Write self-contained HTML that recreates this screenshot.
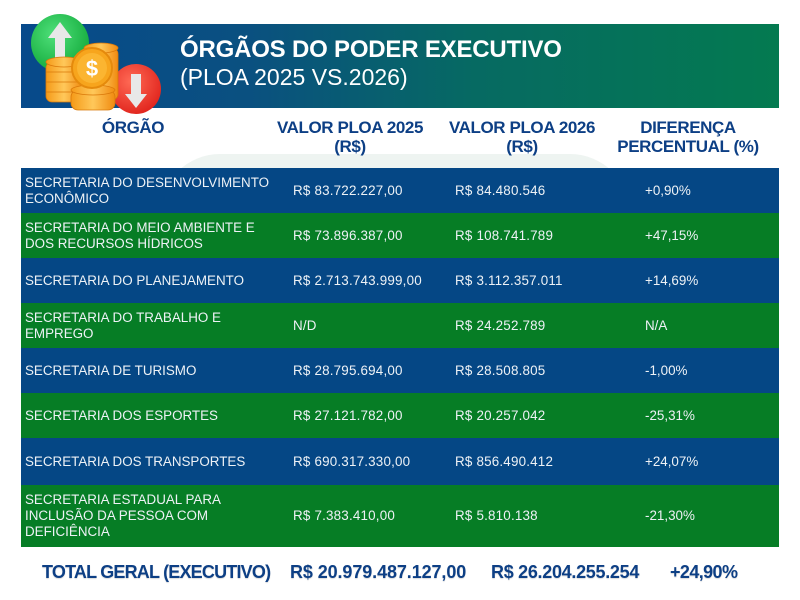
<!DOCTYPE html>
<html>
<head>
<meta charset="utf-8">
<style>
*{margin:0;padding:0;box-sizing:border-box;}
html,body{width:800px;height:600px;overflow:hidden;background:#ffffff;}
body{position:relative;font-family:"Liberation Sans",sans-serif;}
.banner{position:absolute;left:21px;top:24px;width:758px;height:84px;background:linear-gradient(90deg,#074a8b 0%,#0a5080 30%,#066a62 60%,#047a50 100%);}
.t1{position:absolute;left:180px;top:36px;color:#fff;font-weight:bold;font-size:24px;letter-spacing:-0.2px;white-space:nowrap;}
.t2{position:absolute;left:180px;top:64px;color:#fff;font-size:23px;white-space:nowrap;}
.bgshape{position:absolute;left:160px;top:154px;width:470px;height:80px;border-radius:60px 60px 0 0;background:#eef4f1;}
.hd{position:absolute;color:#0d3f85;font-weight:bold;font-size:17px;text-align:center;line-height:19px;white-space:nowrap;letter-spacing:-0.4px;}
.row{position:absolute;left:21px;width:758px;}
.blue{background:#054785;}
.green{background:#067d25;}
.c{position:absolute;color:#eef2f6;font-size:13.4px;line-height:16px;white-space:nowrap;top:50%;transform:translateY(-50%);}
.c1{left:4px;}
.c2{left:272px;letter-spacing:0.2px;}
.c3{left:434px;letter-spacing:0.2px;}
.c4{left:624px;}
.tot{position:absolute;top:562px;color:#0d3f85;font-weight:bold;font-size:18px;white-space:nowrap;letter-spacing:-0.6px;text-shadow:0 1px 1px rgba(0,0,0,0.15);}
</style>
</head>
<body>
<div class="banner"></div>
<svg style="position:absolute;left:0;top:0" width="180" height="125" viewBox="0 0 180 125">
  <defs>
    <radialGradient id="gg" cx="0.4" cy="0.35" r="0.7"><stop offset="0" stop-color="#4fe07a"/><stop offset="1" stop-color="#12a93a"/></radialGradient>
    <radialGradient id="rg" cx="0.4" cy="0.35" r="0.7"><stop offset="0" stop-color="#ff6a55"/><stop offset="1" stop-color="#e0231c"/></radialGradient>
    <linearGradient id="cg" x1="0" x2="1"><stop offset="0" stop-color="#f59a18"/><stop offset="0.5" stop-color="#ffc85a"/><stop offset="1" stop-color="#f08a10"/></linearGradient>
  </defs>
  <circle cx="60" cy="43" r="29" fill="url(#gg)"/>
  <path d="M60 22 L72 38 L65 38 L65 60 L55 60 L55 38 L48 38 Z" fill="#e8e8e8"/>
  <circle cx="136" cy="89" r="25" fill="url(#rg)"/>
  <path d="M136 108 L147 94 L141 94 L141 74 L131 74 L131 94 L125 94 Z" fill="#e8e8e8"/>
  <g fill="url(#cg)" stroke="#d9780a" stroke-width="0.8">
    <rect x="84" y="48" width="34" height="52" rx="6"/>
    <ellipse cx="101" cy="48" rx="17" ry="5"/>
  </g>
  <g fill="url(#cg)" stroke="#d9780a" stroke-width="0.8">
    <rect x="46" y="62" width="36" height="40" rx="6"/>
    <ellipse cx="64" cy="62" rx="18" ry="5"/>
    <line x1="46" y1="72" x2="82" y2="72"/>
    <line x1="46" y1="82" x2="82" y2="82"/>
    <line x1="46" y1="92" x2="82" y2="92"/>
  </g>
  <g fill="url(#cg)" stroke="#d9780a" stroke-width="0.8">
    <rect x="71" y="90" width="44" height="20" rx="7"/>
    <ellipse cx="93" cy="90" rx="22" ry="5"/>
  </g>
  <circle cx="92" cy="68" r="20" fill="#f7a51d" stroke="#e58a0c" stroke-width="2"/>
  <circle cx="92" cy="68" r="15" fill="#fbb531"/>
  <text x="92" y="76" font-family="Liberation Sans" font-weight="bold" font-size="22" fill="#ffffff" text-anchor="middle">$</text>
</svg>
<div class="t1">ÓRGÃOS DO PODER EXECUTIVO</div>
<div class="t2">(PLOA 2025 VS.2026)</div>

<div class="bgshape"></div>

<div class="hd" style="left:93px;top:118px;width:80px;">ÓRGÃO</div>
<div class="hd" style="left:265px;top:118px;width:170px;">VALOR PLOA 2025<br>(R$)</div>
<div class="hd" style="left:437px;top:118px;width:170px;">VALOR PLOA 2026<br>(R$)</div>
<div class="hd" style="left:608px;top:118px;width:160px;">DIFERENÇA<br>PERCENTUAL (%)</div>

<div class="row blue" style="top:168px;height:45px;">
  <div class="c c1">SECRETARIA DO DESENVOLVIMENTO<br>ECONÔMICO</div>
  <div class="c c2">R$ 83.722.227,00</div>
  <div class="c c3">R$ 84.480.546</div>
  <div class="c c4">+0,90%</div>
</div>
<div class="row green" style="top:213px;height:45px;">
  <div class="c c1">SECRETARIA DO MEIO AMBIENTE E<br>DOS RECURSOS HÍDRICOS</div>
  <div class="c c2">R$ 73.896.387,00</div>
  <div class="c c3">R$ 108.741.789</div>
  <div class="c c4">+47,15%</div>
</div>
<div class="row blue" style="top:258px;height:45px;">
  <div class="c c1">SECRETARIA DO PLANEJAMENTO</div>
  <div class="c c2">R$ 2.713.743.999,00</div>
  <div class="c c3">R$ 3.112.357.011</div>
  <div class="c c4">+14,69%</div>
</div>
<div class="row green" style="top:303px;height:45px;">
  <div class="c c1">SECRETARIA DO TRABALHO E<br>EMPREGO</div>
  <div class="c c2">N/D</div>
  <div class="c c3">R$ 24.252.789</div>
  <div class="c c4">N/A</div>
</div>
<div class="row blue" style="top:348px;height:45px;">
  <div class="c c1">SECRETARIA DE TURISMO</div>
  <div class="c c2">R$ 28.795.694,00</div>
  <div class="c c3">R$ 28.508.805</div>
  <div class="c c4">-1,00%</div>
</div>
<div class="row green" style="top:393px;height:45px;">
  <div class="c c1">SECRETARIA DOS ESPORTES</div>
  <div class="c c2">R$ 27.121.782,00</div>
  <div class="c c3">R$ 20.257.042</div>
  <div class="c c4">-25,31%</div>
</div>
<div class="row blue" style="top:438px;height:47px;">
  <div class="c c1">SECRETARIA DOS TRANSPORTES</div>
  <div class="c c2">R$ 690.317.330,00</div>
  <div class="c c3">R$ 856.490.412</div>
  <div class="c c4">+24,07%</div>
</div>
<div class="row green" style="top:485px;height:62px;">
  <div class="c c1">SECRETARIA ESTADUAL PARA<br>INCLUSÃO DA PESSOA COM<br>DEFICIÊNCIA</div>
  <div class="c c2">R$ 7.383.410,00</div>
  <div class="c c3">R$ 5.810.138</div>
  <div class="c c4">-21,30%</div>
</div>

<div class="tot" style="left:42px;letter-spacing:-0.8px;">TOTAL GERAL (EXECUTIVO)</div>
<div class="tot" style="left:290px;letter-spacing:-0.1px;">R$ 20.979.487.127,00</div>
<div class="tot" style="left:491px;letter-spacing:-0.3px;">R$ 26.204.255.254</div>
<div class="tot" style="left:670px;">+24,90%</div>
</body>
</html>
